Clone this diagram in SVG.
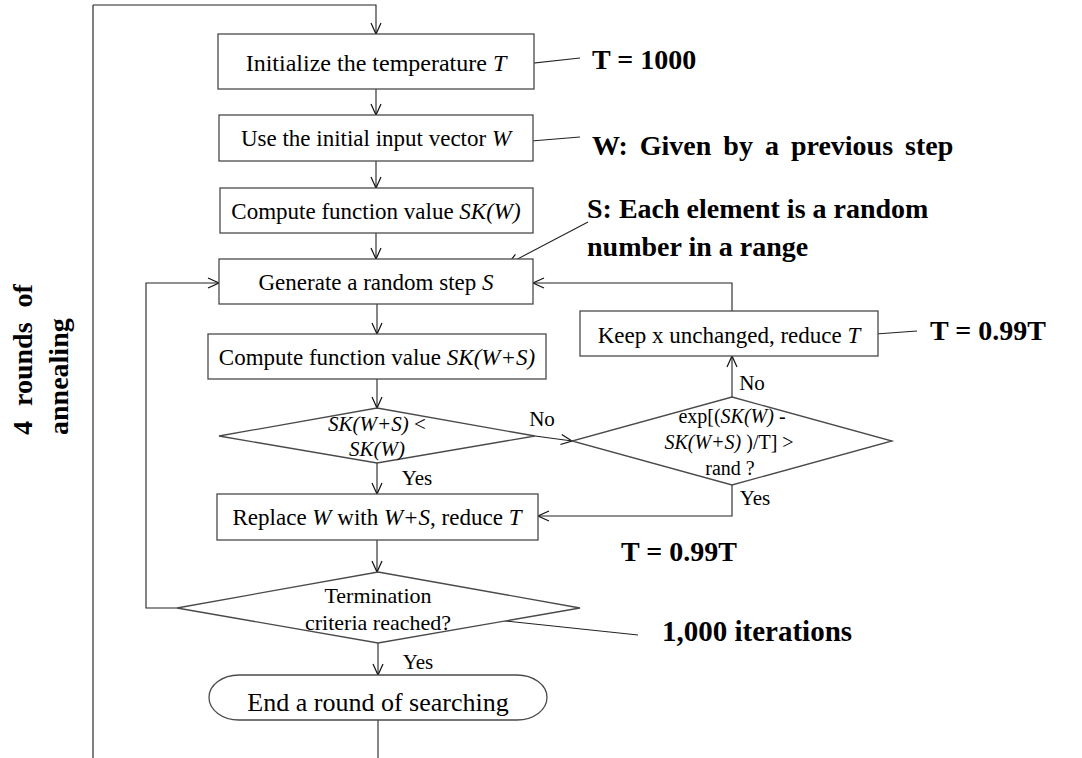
<svg xmlns="http://www.w3.org/2000/svg" width="1082" height="758" viewBox="0 0 1082 758">
  <defs>
    <marker id="ah" viewBox="-12 -6 14 12" refX="0" refY="0" markerWidth="14" markerHeight="12" markerUnits="userSpaceOnUse" orient="auto" overflow="visible">
      <path d="M-11,-5 L0,0 L-11,5" fill="none" stroke="#111" stroke-width="1.2"/>
    </marker>
    <style>
      .box { fill: #fff; stroke: #4a4a4a; stroke-width: 1.3; }
      .ln { fill: none; stroke: #222; stroke-width: 1.1; }
      .t { font-family: "Liberation Serif", "Times New Roman", serif; font-size: 23px; fill: #000; text-anchor: middle; }
      .d { font-family: "Liberation Serif", "Times New Roman", serif; font-size: 21px; fill: #000; text-anchor: middle; }
      .b { font-family: "Liberation Serif", "Times New Roman", serif; font-size: 28px; font-weight: bold; fill: #000; }
      .i { font-style: italic; }
    </style>
  </defs>

  <!-- connectors -->
  <g id="connectors">
    <path d="M93,758 V5" fill="none" stroke="#808080" stroke-width="2"/>
    <path class="ln" d="M93,5 H376 V34" marker-end="url(#ah)"/>
    <path class="ln" d="M376,89 V115" marker-end="url(#ah)"/>
    <path class="ln" d="M376,161 V188" marker-end="url(#ah)"/>
    <path class="ln" d="M376,233 V259" marker-end="url(#ah)"/>
    <path class="ln" d="M377,304 V334" marker-end="url(#ah)"/>
    <path class="ln" d="M377,379 V408" marker-end="url(#ah)"/>
    <path class="ln" d="M377,463 V494" marker-end="url(#ah)"/>
    <path class="ln" d="M377,540 V572" marker-end="url(#ah)"/>
    <path class="ln" d="M378,643 V675" marker-end="url(#ah)"/>
    <path class="ln" d="M378,720 V758"/>
    <path class="ln" d="M535,436 L572,441" marker-end="url(#ah)"/>
    <path class="ln" d="M732,397 V356" marker-end="url(#ah)"/>
    <path class="ln" d="M732,311 V283 H533" marker-end="url(#ah)"/>
    <path class="ln" d="M732,485 V516 H538" marker-end="url(#ah)"/>
    <path class="ln" d="M177,608 H146 V283 H219" marker-end="url(#ah)"/>
    <!-- annotation pointers -->
    <path class="ln" d="M580,58 L507,66" marker-end="url(#ah)"/>
    <path class="ln" d="M580,137 L519,142" marker-end="url(#ah)"/>
    <path class="ln" d="M588,222 L508,264" marker-end="url(#ah)"/>
    <path class="ln" d="M917,331 L862,335" marker-end="url(#ah)"/>
    <path class="ln" d="M638,635 L468,617" marker-end="url(#ah)"/>
  </g>

  <g id="init-temp">
    <rect class="box" x="218" y="34" width="316" height="55"/>
    <text class="t" x="376" y="71" style="font-size:24px">Initialize the temperature <tspan class="i">T</tspan></text>
  </g>
  <g id="init-vector">
    <rect class="box" x="219" y="115" width="314" height="46"/>
    <text class="t" x="376" y="146">Use the initial input vector <tspan class="i">W</tspan></text>
  </g>
  <g id="compute-sk-w">
    <rect class="box" x="220" y="188" width="313" height="45"/>
    <text class="t" x="376" y="219">Compute function value <tspan class="i">SK(W)</tspan></text>
  </g>
  <g id="random-step">
    <rect class="box" x="219" y="259" width="314" height="45"/>
    <text class="t" x="376" y="290">Generate a random step <tspan class="i">S</tspan></text>
  </g>
  <g id="compute-sk-ws">
    <rect class="box" x="208" y="334" width="338" height="45"/>
    <text class="t" x="377" y="365">Compute function value <tspan class="i">SK(W+S)</tspan></text>
  </g>
  <g id="compare">
    <polygon class="box" points="377,408 535,436 377,463 219,436"/>
    <text class="d" x="377" y="431"><tspan class="i">SK(W+S)</tspan> &lt;</text>
    <text class="d" x="377" y="456"><tspan class="i">SK(W)</tspan></text>
  </g>
  <g id="accept-test">
    <polygon class="box" points="732,397 892,441 732,485 572,441"/>
    <text class="d" x="732" y="423" style="font-size:20px">exp[(<tspan class="i">SK(W)</tspan> -</text>
    <text class="d" x="729" y="449" style="font-size:20px"><tspan class="i">SK(W+S)</tspan> )/T] &gt;</text>
    <text class="d" x="730" y="475" style="font-size:20px">rand ?</text>
  </g>
  <g id="keep">
    <rect class="box" x="580" y="311" width="298" height="45"/>
    <text class="t" x="729" y="343">Keep x unchanged, reduce <tspan class="i">T</tspan></text>
  </g>
  <g id="replace">
    <rect class="box" x="217" y="494" width="321" height="46"/>
    <text class="t" x="377" y="525">Replace <tspan class="i">W</tspan> with <tspan class="i">W+S</tspan>, reduce <tspan class="i">T</tspan></text>
  </g>
  <g id="termination">
    <polygon class="box" points="378,572 580,608 378,643 177,608"/>
    <text class="d" x="378" y="603" style="font-size:22px">Termination</text>
    <text class="d" x="378" y="630" style="font-size:22px">criteria reached?</text>
  </g>
  <g id="end-round">
    <rect class="box" x="209" y="675" width="338" height="45" rx="30" ry="22.5"/>
    <text class="t" x="378" y="711" style="font-size:26px">End a round of searching</text>
  </g>

  <!-- branch labels -->
  <g id="labels">
    <text class="d" x="542" y="426">No</text>
    <text class="d" x="752" y="390">No</text>
    <text class="d" x="417" y="485">Yes</text>
    <text class="d" x="755" y="505">Yes</text>
    <text class="d" x="418" y="669">Yes</text>
  </g>

  <!-- annotations -->
  <g id="annotations">
    <text class="b" x="592" y="69">T = 1000</text>
    <text class="b" x="592" y="155" style="word-spacing:5px">W: Given by a previous step</text>
    <text class="b" x="587" y="218">S: Each element is a random</text>
    <text class="b" x="587" y="256">number in a range</text>
    <text class="b" x="930" y="340">T = 0.99T</text>
    <text class="b" x="621" y="561">T = 0.99T</text>
    <text class="b" x="662" y="641" style="font-size:29px">1,000 iterations</text>
    <text class="b" transform="translate(32,435) rotate(-90)" style="word-spacing:8px">4 rounds of</text>
    <text class="b" transform="translate(68,435) rotate(-90)">annealing</text>
  </g>
</svg>
